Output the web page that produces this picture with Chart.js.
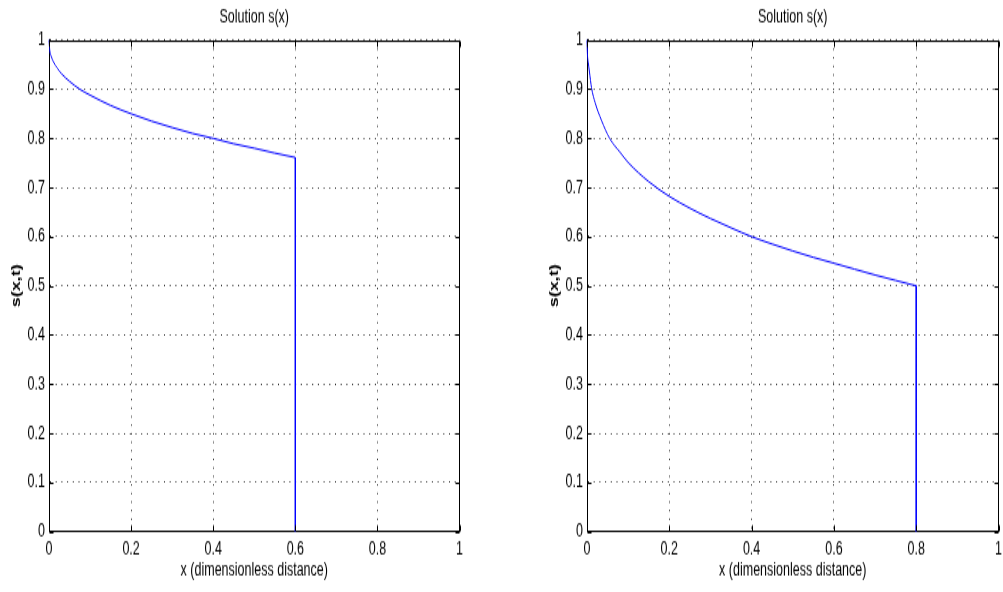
<!DOCTYPE html>
<html>
<head>
<meta charset="utf-8">
<title>Solution s(x)</title>
<script src="https://cdn.jsdelivr.net/npm/chart.js@4"></script>
<style>
  html, body { margin: 0; padding: 0; background: #fff; }
  body { width: 1003px; height: 592px; position: relative; overflow: hidden; }
  /* a figura original está esticada na vertical (~1.5x) */
  canvas { position: absolute; top: 0; height: 592px !important; }
  #left { left: 0; width: 467px !important; }
  #right { left: 538px; width: 468px !important; }
</style>
</head>
<body>
<canvas id="left" width="467" height="395"></canvas>
<canvas id="right" width="468" height="395"></canvas>
<script>
// valores
const leftX = [0, 0.002, 0.005, 0.01, 0.02, 0.03, 0.05, 0.075, 0.1, 0.15, 0.2, 0.25, 0.3, 0.35, 0.4, 0.45, 0.5, 0.55, 0.6];
const leftS = [1, 0.978, 0.968, 0.957, 0.943, 0.932, 0.916, 0.9, 0.888, 0.867, 0.85, 0.835, 0.822, 0.81, 0.8, 0.789, 0.78, 0.77, 0.761];
const leftDropX = [0.6, 0.6];
const leftDropS = [0.761, 0];

const rightX = [0, 0.001, 0.003, 0.006, 0.011, 0.02, 0.035, 0.055, 0.08, 0.1, 0.15, 0.2, 0.25, 0.3, 0.35, 0.4, 0.45, 0.5, 0.55, 0.6, 0.65, 0.7, 0.75, 0.8];
const rightS = [1, 0.972, 0.955, 0.935, 0.903, 0.872, 0.837, 0.8, 0.772, 0.751, 0.712, 0.682, 0.658, 0.637, 0.618, 0.6, 0.585, 0.571, 0.558, 0.546, 0.534, 0.522, 0.511, 0.5];
const rightDropX = [0.8, 0.8];
const rightDropS = [0.5, 0];

const xTickLabels = ['0', '0.2', '0.4', '0.6', '0.8', '1'];
const yTickLabels = ['0', '0.1', '0.2', '0.3', '0.4', '0.5', '0.6', '0.7', '0.8', '0.9', '1'];

const titleText = 'Solution s(x)';
const xTitle = 'x (dimensionless distance)';
const yTitle = 's(x,t)';

const FONT = "'Liberation Sans', Arial, Helvetica, sans-serif";

// moldura, ticks internos e título no estilo matlab
const matlabAxes = {
  id: 'matlabAxes',
  afterDraw(chart) {
    const { ctx, chartArea: a, scales: { x, y } } = chart;
    ctx.save();
    ctx.strokeStyle = '#000';
    ctx.lineWidth = 1;
    ctx.beginPath();
    const L = Math.round(a.left) + 0.5, R = Math.round(a.right) - 0.5;
    const T = Math.round(a.top) + 0.5, B = Math.round(a.bottom) - 0.5;
    ctx.moveTo(L, T); ctx.lineTo(R, T); ctx.lineTo(R, B);
    x.ticks.forEach(t => {
      const px = Math.round(x.getPixelForValue(t.value)) + 0.5;
      ctx.moveTo(px, B); ctx.lineTo(px, B - 4);
      ctx.moveTo(px, T); ctx.lineTo(px, T + 4);
    });
    y.ticks.forEach(t => {
      const py = Math.round(y.getPixelForValue(t.value)) + 0.5;
      ctx.moveTo(L, py); ctx.lineTo(L + 4, py);
      ctx.moveTo(R, py); ctx.lineTo(R - 4, py);
    });
    ctx.stroke();
    ctx.fillStyle = '#000';
    ctx.font = '12.5px ' + FONT;
    ctx.textAlign = 'center';
    ctx.textBaseline = 'middle';
    ctx.fillText(titleText, (a.left + a.right) / 2, 12);
    ctx.restore();
  }
};

function pontos(xs, ys) {
  return xs.map((v, i) => ({ x: v, y: ys[i] }));
}

function criarGrafico(id, xs, ys, dx, ds) {
  return new Chart(document.getElementById(id), {
    type: 'line',
    data: {
      datasets: [
        { data: pontos(xs, ys), borderColor: '#0000ff', borderWidth: 1, pointRadius: 0, cubicInterpolationMode: 'monotone', clip: 3 },
        { data: pontos(dx, ds), borderColor: '#0000ff', borderWidth: 1, pointRadius: 0, tension: 0, clip: 3 }
      ]
    },
    options: {
      responsive: false,
      animation: false,
      devicePixelRatio: 1,
      layout: { padding: { top: 26.7, right: 0, bottom: 0, left: 0 } },
      plugins: { legend: { display: false }, tooltip: { enabled: false } },
      scales: {
        x: {
          type: 'linear', min: 0, max: 1,
          afterFit: s => { s.height = 40.3; },
          ticks: { stepSize: 0.2, padding: 4, color: '#000', font: { family: FONT, size: 12.5 },
                   callback: (v, i) => xTickLabels[i], maxRotation: 0 },
          grid: { color: 'rgba(0,0,0,0.8)', lineWidth: 1, drawTicks: false },
          border: { color: '#000', width: 1, dash: [1, 4.7] },
          title: { display: true, text: xTitle, color: '#000', font: { family: FONT, size: 12.5 }, padding: { top: 0, bottom: 7 } }
        },
        y: {
          type: 'linear', min: 0, max: 1,
          afterFit: s => { s.width = 49; },
          ticks: { stepSize: 0.1, padding: 4, color: '#000', font: { family: FONT, size: 12.5 },
                   callback: (v, i) => yTickLabels[i] },
          grid: { color: 'rgba(0,0,0,0.8)', lineWidth: 1, drawTicks: false },
          border: { color: '#000', width: 1, dash: [1, 4.7] },
          title: { display: true, text: yTitle, color: '#000', font: { family: FONT, size: 12, weight: 'bold' }, padding: { top: 9, bottom: 0 } }
        }
      }
    },
    plugins: [matlabAxes]
  });
}

criarGrafico('left', leftX, leftS, leftDropX, leftDropS);
criarGrafico('right', rightX, rightS, rightDropX, rightDropS);
</script>
</body>
</html>
